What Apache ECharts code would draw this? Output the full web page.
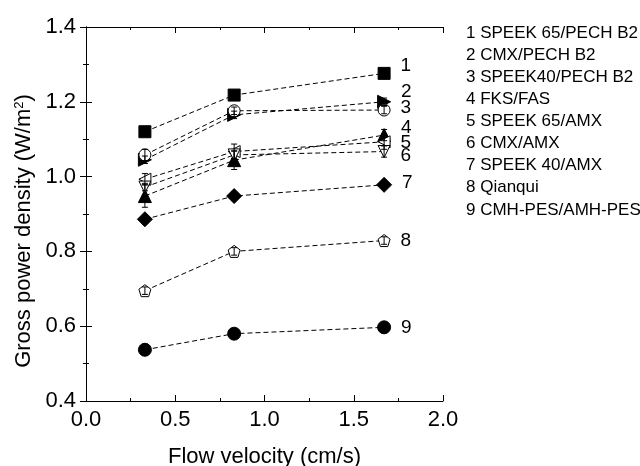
<!DOCTYPE html>
<html>
<head>
<meta charset="utf-8">
<script src="https://cdn.jsdelivr.net/npm/echarts@6/dist/echarts.min.js"></script>
<style>html,body{margin:0;padding:0;background:#fff}#c{width:640px;height:466px}</style>
</head>
<body>
<div id="c"></div>
<script>
var xValues = [0.33, 0.83, 1.67];
var seriesNames = ['1','2','3','4','5','6','7','8','9'];
var legendNames = ['SPEEK 65/PECH B2','CMX/PECH B2','SPEEK40/PECH B2','FKS/FAS','SPEEK 65/AMX','CMX/AMX','SPEEK 40/AMX','Qianqui','CMH-PES/AMH-PES'];
var s1 = [1.120, 1.218, 1.276];
var s2 = [1.045, 1.165, 1.200];
var s3 = [1.058, 1.176, 1.178];
var s4 = [0.948, 1.044, 1.111];
var s5 = [0.993, 1.067, 1.093];
var s6 = [0.972, 1.058, 1.067];
var s7 = [0.886, 0.948, 0.978];
var s8 = [0.695, 0.800, 0.829];
var s9 = [0.537, 0.580, 0.597];
var e1 = [0.010, 0.010, 0.005];
var e2 = [0.010, 0.010, 0.010];
var e3 = [0.015, 0.010, 0.010];
var e4 = [0.030, 0.025, 0.015];
var e5 = [0.015, 0.020, 0.020];
var e6 = [0.010, 0.010, 0.015];
var e7 = [0.010, 0.010, 0.010];
var e8 = [0.010, 0.010, 0.010];
var e9 = [0.015, 0.010, 0.010];
var xTicks = ['0.0','0.5','1.0','1.5','2.0'];
var yTicks = ['0.4','0.6','0.8','1.0','1.2','1.4'];

var allValues = [s1,s2,s3,s4,s5,s6,s7,s8,s9];
var allErrors = [e1,e2,e3,e4,e5,e6,e7,e8,e9];

var FONT = 'Liberation Sans, Arial, sans-serif';
var symbols = [
  {s:'rect', size:12, fill:'#000'},
  {s:'path://M0,0L10,5L0,10Z', size:[13,13], fill:'#000'},
  {s:'circle', size:12, fill:'#fff'},
  {s:'triangle', size:[13,13], fill:'#000'},
  {s:'path://M10,0L0,5L10,10Z', size:[12,12], fill:'#fff'},
  {s:'path://M0,0L10,0L5,10Z', size:[12,12], fill:'#fff'},
  {s:'diamond', size:[15,15], fill:'#000'},
  {s:'path://M5,0L10,3.8L8.1,10L1.9,10L0,3.8Z', size:[12,12], fill:'#fff'},
  {s:'circle', size:13, fill:'#000'}
];
var labelOffsets = [[0,-8],[0,-10],[0,-2],[0,-7],[0,1],[0,4],[0,-2],[0,0],[0,0]];

var series = [];
allValues.forEach(function(vals, i){
  var data = vals.map(function(v, j){
    var item = {value:[xValues[j], v]};
    if (j === vals.length - 1) {
      item.label = {show:true, formatter:seriesNames[i], position:'right', distance:10,
        offset:labelOffsets[i], fontSize:19, fontFamily:FONT, color:'#000'};
    }
    return item;
  });
  series.push({
    name: seriesNames[i],
    type:'line',
    data:data,
    symbol:symbols[i].s,
    symbolSize:symbols[i].size,
    showAllSymbol:true,
    lineStyle:{color:'#000', width:1, type:[5,3]},
    itemStyle:{color:symbols[i].fill, borderColor:'#000', borderWidth:1},
    emphasis:{disabled:true},
    z:2
  });
});

var errData = [];
allValues.forEach(function(vals, i){
  vals.forEach(function(v, j){
    errData.push([xValues[j], v - allErrors[i][j], v + allErrors[i][j]]);
  });
});
series.push({
  type:'custom',
  data:errData,
  z:5,
  silent:true,
  renderItem:function(params, api){
    var x = api.value(0);
    var lo = api.coord([x, api.value(1)]);
    var hi = api.coord([x, api.value(2)]);
    var w = 3;
    var st = {stroke:'#000', lineWidth:1};
    return {type:'group', children:[
      {type:'line', shape:{x1:lo[0], y1:lo[1], x2:hi[0], y2:hi[1]}, style:st},
      {type:'line', shape:{x1:lo[0]-w, y1:lo[1], x2:lo[0]+w, y2:lo[1]}, style:st},
      {type:'line', shape:{x1:hi[0]-w, y1:hi[1], x2:hi[0]+w, y2:hi[1]}, style:st}
    ]};
  },
  encode:{x:0, y:[1,2]}
});

var axisCommon = {
  type:'value',
  axisLine:{show:true, lineStyle:{color:'#000', width:1}},
  axisTick:{show:true, inside:true, length:6, lineStyle:{color:'#000'}},
  minorTick:{show:true, splitNumber:2, length:3, lineStyle:{color:'#000'}},
  splitLine:{show:false},
  minorSplitLine:{show:false}
};

function mk(extra){ return Object.assign({}, JSON.parse(JSON.stringify(axisCommon)), extra); }

var option = {
  animation:false,
  backgroundColor:'#fff',
  textStyle:{fontFamily:FONT},
  grid:{left:86, right:197, top:27, bottom:65, containLabel:false, outerBoundsMode:'none'},
  title:{
    text: legendNames.map(function(n,i){return seriesNames[i]+' '+n;}).join('\n'),
    left:461, top:17,
    textStyle:{fontSize:17, fontWeight:'normal', fontFamily:FONT, color:'#000', lineHeight:22.1}
  },
  xAxis:[
    mk({min:0, max:2, interval:0.5, position:'bottom',
      axisLabel:{fontSize:22, color:'#000', margin:8, fontFamily:FONT,
        formatter:function(v){ return xTicks[Math.round(v/0.5)]; }},
      name:'Flow velocity (cm/s)', nameLocation:'middle', nameGap:45,
      nameTextStyle:{fontSize:22, color:'#000', fontFamily:FONT}}),
    mk({min:0, max:2, interval:0.5, position:'top', axisLabel:{show:false}})
  ],
  yAxis:[
    mk({min:0.4, max:1.4, interval:0.2, position:'left',
      axisLabel:{fontSize:22, color:'#000', margin:10, fontFamily:FONT,
        formatter:function(v){ return yTicks[Math.round((v-0.4)/0.2)]; }}}),
    mk({min:0.4, max:1.4, interval:0.2, position:'right', axisLabel:{show:false}})
  ],
  graphic:[{
    type:'text', x:24, y:231, rotation:Math.PI/2,
    style:{
      text:'Gross power density (W/m{sup|2})',
      font:'22px ' + FONT, fill:'#000', align:'center', verticalAlign:'middle',
      rich:{sup:{fontSize:13, verticalAlign:'top', padding:[0,0,10,0], fontFamily:FONT}}
    }
  }],
  series:series
};

var chart = echarts.init(document.getElementById('c'), null, {renderer:'canvas'});
chart.setOption(option);
</script>
</body>
</html>
